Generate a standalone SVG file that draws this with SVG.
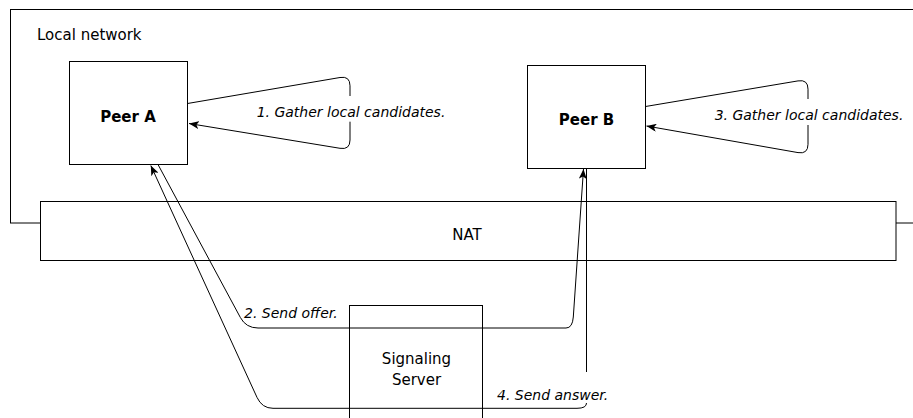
<svg xmlns="http://www.w3.org/2000/svg" width="913" height="418" viewBox="0 0 913 418">
<style>
.box{fill:#fff;stroke:#000;stroke-width:1}
.t{font-family:"DejaVu Sans",Verdana,sans-serif;fill:#000}
.lbl{font-family:"DejaVu Sans",Verdana,sans-serif;font-style:italic;font-size:14px;fill:#000}
.edge{fill:none;stroke:#000;stroke-width:1}
</style>
<defs>
<marker id="arr" viewBox="0 0 10 8" refX="10" refY="4" markerWidth="10" markerHeight="8" orient="auto" markerUnits="userSpaceOnUse">
<path d="M0,0 L10,4 L0,8 L2.5,4 Z" fill="#000"/>
</marker>
</defs>
<g id="local-network">
<rect class="box" x="10.5" y="9.5" width="920" height="213.5"/>
<text class="t" x="37" y="39.5" font-size="15">Local network</text>
</g>
<g id="nat">
<rect class="box" x="40.5" y="201.5" width="855.5" height="59"/>
<text class="t" x="467" y="240" font-size="15" text-anchor="middle">NAT</text>
</g>
<g id="peer-a">
<rect class="box" x="69.5" y="61.5" width="118" height="103"/>
<text class="t" x="128" y="121.5" font-size="15" font-weight="bold" text-anchor="middle">Peer A</text>
</g>
<g id="peer-b">
<rect class="box" x="527.5" y="65.5" width="118" height="103"/>
<text class="t" x="586.5" y="125" font-size="15" font-weight="bold" text-anchor="middle">Peer B</text>
</g>
<g id="signaling-server">
<rect class="box" x="349.5" y="305.5" width="133" height="140"/>
<text class="t" x="416.5" y="364" font-size="15" text-anchor="middle">Signaling</text>
<text class="t" x="416.5" y="385" font-size="15" text-anchor="middle">Server</text>
</g>
<g id="connectors">
<path class="edge" marker-end="url(#arr)" d="M187.5,103.5 L340,77.5 Q350,75.8 350,85.8 L350,96 M350,121.7 L350,140 Q350,150 340,148.3 L189,123.5"/>
<text class="lbl" x="351" y="117" text-anchor="middle">1. Gather local candidates.</text>
<path class="edge" marker-end="url(#arr)" d="M645.5,106.5 L798,80.9 Q808,79.2 808,89.2 L808,99 M808,125 L808,144.3 Q808,154.3 798,152.6 L646.5,126"/>
<text class="lbl" x="809" y="120" text-anchor="middle">3. Gather local candidates.</text>
<path class="edge" marker-end="url(#arr)" d="M158,164.5 L240.3,317.4 Q246,328 258,328 L566,328 Q572.5,328 573.3,317 L583.5,169"/>
<text class="lbl" x="244" y="318">2. Send offer.</text>
<path class="edge" marker-end="url(#arr)" d="M586.5,168.5 L586.5,372 M586.5,403 Q586.5,408.3 577,408.3 L273,408.3 Q262,408.3 257,397.4 L150.8,165.5"/>
<text class="lbl" x="497" y="399.5">4. Send answer.</text>
</g>
</svg>
